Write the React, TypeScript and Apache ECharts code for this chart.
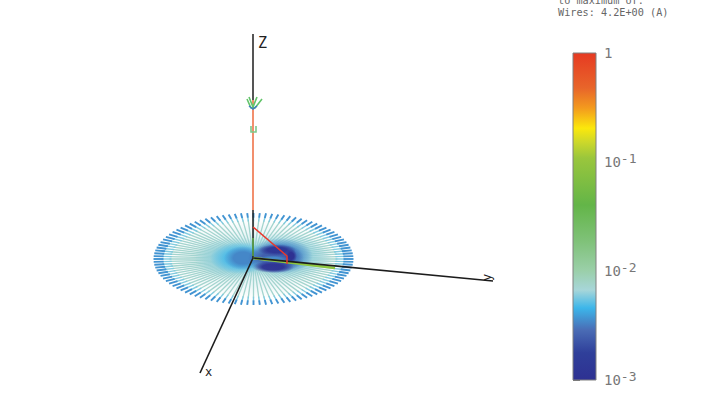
import React, { useEffect, useRef } from "react";
import * as echarts from "echarts";

const spokeAngles = [0,3.6,7.2,10.8,14.4,18,21.6,25.2,28.8,32.4,36,39.6,43.2,46.8,50.4,54,57.6,61.2,64.8,68.4,72,75.6,79.2,82.8,86.4,90,93.6,97.2,100.8,104.4,108,111.6,115.2,118.8,122.4,126,129.6,133.2,136.8,140.4,144,147.6,151.2,154.8,158.4,162,165.6,169.2,172.8,176.4,180,183.6,187.2,190.8,194.4,198,201.6,205.2,208.8,212.4,216,219.6,223.2,226.8,230.4,234,237.6,241.2,244.8,248.4,252,255.6,259.2,262.8,266.4,270,273.6,277.2,280.8,284.4,288,291.6,295.2,298.8,302.4,306,309.6,313.2,316.8,320.4,324,327.6,331.2,334.8,338.4,342,345.6,349.2,352.8,356.4];
const discCenter = [253.5, 259];
const discRadii = [100, 46];
const spokeInnerLevel = 0.0075;
const spokeMidLevel = 0.0058;
const spokeTipLevel = 0.0037;

// relative field strength patches: cx, cy, rx, ry, level, opacity
const fieldPatches = [
  [253, 259, 88, 40, 0.0066, 0.3],
  [284, 256, 48, 23, 0.0062, 0.85],
  [236, 258, 42, 21, 0.0062, 0.85],
  [240, 258, 30, 16, 0.0048, 0.9],
  [243, 258, 19, 12, 0.0034, 1],
  [281, 256, 32, 18, 0.0034, 1],
  [276, 258, 28, 15, 0.0024, 0.9],
  [277, 250, 19, 5.5, 0.0012, 0.95],
  [273, 267, 21, 6, 0.0011, 0.95],
  [291, 256, 6, 7, 0.001, 1],
  [273, 259, 15, 3.5, 0.0034, 1],
];

const colorStops = [0, 0.083, 0.153, 0.22, 0.275, 0.336, 0.422, 0.535, 0.679, 0.728, 0.77, 0.832, 0.893, 1];
const colorList = ["#2e3192","#2f3f9a","#4a6cb5","#3cb6ea","#a7d6d9","#9acfa8","#80c27a","#63b548","#9ac63c","#cdd82a","#fbe80c","#f39a1e","#e8652a","#e63a22"];
const barTicks = [0.001, 0.01, 0.1, 1];
const tickLabels = ["10{s|-3}", "10{s|-2}", "10{s|-1}", "1"];

const wires = [
  { coords: [[253,34],[253,100]], color: "#1c1c1c", width: 1.5 },
  { coords: [[253,100],[253,210]], color: "#ee6a3c", width: 1.5 },
  { coords: [[253,210],[253,258]], color: "#1c1c1c", width: 1.5 },
  { coords: [[253,238],[253,256]], color: "#63b84d", width: 1.4 },
  { coords: [[253,258],[200,373]], color: "#1c1c1c", width: 1.6 },
  { coords: [[253,258],[335,268]], color: "#8dc63f", width: 2.6 },
  { coords: [[253,258],[493,281]], color: "#1c1c1c", width: 1.6 },
  { coords: [[253,227],[287,256],[287,264]], color: "#e8382c", width: 1.5 },
  { coords: [[247,99],[251,108],[255,108],[262,99]], color: "#62c46a", width: 1.6 },
  { coords: [[249,97],[253,107],[257,97]], color: "#62c46a", width: 1.6 },
  { coords: [[249,106],[253,109],[257,106]], color: "#3f7fc0", width: 1.5 },
  { coords: [[251,126],[251,132],[256,132],[256,126]], color: "#7cc98a", width: 1.6 },
];

function colorAt(v: number) {
  const t = (Math.log10(v) + 3) / 3;
  for (let i = 1; i < colorStops.length; i++) {
    if (t <= colorStops[i]) {
      const k = Math.max(0, (t - colorStops[i - 1]) / (colorStops[i] - colorStops[i - 1]));
      return echarts.color.lerp(k, [colorList[i - 1], colorList[i]]);
    }
  }
  return colorList[colorList.length - 1];
}

export default function App() {
  const ref = useRef<HTMLDivElement>(null);
  useEffect(() => {
    document.body.style.margin = "0";
    const chart = echarts.init(ref.current!, null, { renderer: "svg" });
    const mono = "'DejaVu Sans Mono', monospace";
    chart.setOption({
      animation: false,
      backgroundColor: "#ffffff",
      grid: [
        { left: 0, top: 0, width: 726, height: 420 },
        { left: 573, top: 53, width: 23, height: 327 },
      ],
      xAxis: [
        { gridIndex: 0, type: "value", min: 0, max: 726, show: false },
        { gridIndex: 1, type: "value", min: 0, max: 1, show: false },
      ],
      yAxis: [
        { gridIndex: 0, type: "value", min: 0, max: 420, inverse: true, show: false },
        {
          gridIndex: 1, type: "log", logBase: 10, min: 0.001, max: 1, position: "right",
          splitLine: { show: false }, minorTick: { show: false },
          axisLine: { show: false },
          axisTick: { show: true, length: 7, lineStyle: { color: "#777777", width: 1 } },
          axisLabel: {
            margin: 8, fontFamily: mono, fontSize: 14, color: "#777777",
            formatter: (v: number) => tickLabels[barTicks.findIndex((b) => Math.abs(Math.log10(b) - Math.log10(v)) < 0.01)],
            rich: { s: { fontFamily: mono, fontSize: 13, color: "#777777", verticalAlign: "top", padding: [0, 0, 8, 0] } },
          },
        },
      ],
      series: [
        {
          type: "custom", coordinateSystem: "cartesian2d", xAxisIndex: 0, yAxisIndex: 0,
          silent: true, clip: false,
          data: spokeAngles.map((a) => [a]),
          renderItem: (_p: any, api: any) => {
            const a = (api.value(0) * Math.PI) / 180;
            const pt = (r: number) => api.coord([discCenter[0] + discRadii[0] * r * Math.cos(a), discCenter[1] + discRadii[1] * r * Math.sin(a)]);
            const seg = (r0: number, r1: number, color: string, lineWidth: number) => {
              const p = pt(r0), q = pt(r1);
              return { type: "line", shape: { x1: p[0], y1: p[1], x2: q[0], y2: q[1] }, style: { stroke: color, lineWidth } };
            };
            return {
              type: "group",
              children: [
                seg(0.1, 0.84, colorAt(spokeInnerLevel), 1.3),
                seg(0.82, 0.92, colorAt(spokeMidLevel), 1.4),
                seg(0.9, 1, colorAt(spokeTipLevel), 1.9),
              ],
            };
          },
        },
        {
          type: "custom", coordinateSystem: "cartesian2d", xAxisIndex: 0, yAxisIndex: 0,
          silent: true, clip: false,
          data: fieldPatches,
          renderItem: (_p: any, api: any) => {
            const c = api.coord([api.value(0), api.value(1)]);
            const col = colorAt(api.value(4));
            return {
              type: "ellipse",
              shape: { cx: c[0], cy: c[1], rx: api.value(2), ry: api.value(3) },
              style: {
                opacity: api.value(5),
                fill: new echarts.graphic.RadialGradient(0.5, 0.5, 0.5, [
                  { offset: 0, color: col },
                  { offset: 0.5, color: col },
                  { offset: 1, color: echarts.color.modifyAlpha(col, 0) },
                ]),
              },
            };
          },
        },
        {
          type: "lines", coordinateSystem: "cartesian2d", xAxisIndex: 0, yAxisIndex: 0,
          polyline: true, silent: true, clip: false,
          data: wires.map((w) => ({ coords: w.coords, lineStyle: { color: w.color, width: w.width, opacity: 1 } })),
        },
        {
          type: "custom", coordinateSystem: "cartesian2d", xAxisIndex: 1, yAxisIndex: 1,
          silent: true, clip: false,
          data: [[0, 0.001, 1, 1]],
          renderItem: (_p: any, api: any) => {
            const a = api.coord([api.value(0), api.value(1)]);
            const b = api.coord([api.value(3), api.value(2)]);
            return {
              type: "rect",
              shape: { x: a[0], y: b[1], width: b[0] - a[0], height: a[1] - b[1] },
              style: {
                stroke: "#808080", lineWidth: 1,
                fill: new echarts.graphic.LinearGradient(0, 1, 0, 0, colorStops.map((o, i) => ({ offset: o, color: colorList[i] }))),
              },
            };
          },
        },
      ],
      graphic: [
        { type: "text", x: 258, y: 35, style: { text: "Z", fontFamily: mono, fontSize: 15, fill: "#222222" } },
        { type: "text", x: 205, y: 366, style: { text: "x", fontFamily: mono, fontSize: 12, fill: "#222222" } },
        { type: "text", x: 481, y: 281, rotation: Math.PI / 2, style: { text: "y", fontFamily: mono, fontSize: 12, fill: "#222222" } },
        { type: "text", x: 558, y: -5, style: { text: "to maximum of:", fontFamily: mono, fontSize: 10.2, fill: "#666666" } },
        { type: "text", x: 558, y: 7, style: { text: "Wires: 4.2E+00 (A)", fontFamily: mono, fontSize: 10.2, fill: "#666666" } },
      ],
    });
    return () => chart.dispose();
  }, []);
  return <div ref={ref} style={{ width: 726, height: 420 }} />;
}
